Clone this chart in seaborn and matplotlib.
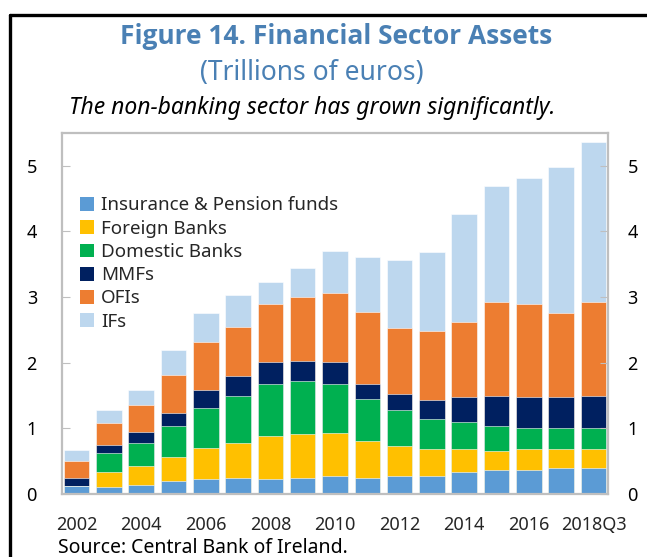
import numpy as np
import pandas as pd
import matplotlib
matplotlib.use('Agg')
import matplotlib.pyplot as plt
from matplotlib.patches import Patch
from matplotlib.lines import Line2D
import seaborn as sns

# Datos (billones de euros)
years = ['2002', '2003', '2004', '2005', '2006', '2007', '2008', '2009', '2010',
         '2011', '2012', '2013', '2014', '2015', '2016', '2017', '2018Q3']
insurance = [0.12, 0.11, 0.14, 0.20, 0.23, 0.25, 0.23, 0.25, 0.28, 0.25, 0.28, 0.28, 0.34, 0.37, 0.37, 0.40, 0.40]
foreign = [0.00, 0.23, 0.28, 0.36, 0.47, 0.53, 0.65, 0.67, 0.65, 0.56, 0.45, 0.40, 0.34, 0.28, 0.31, 0.28, 0.28]
domestic = [0.00, 0.28, 0.36, 0.47, 0.61, 0.72, 0.79, 0.80, 0.74, 0.64, 0.55, 0.47, 0.41, 0.39, 0.33, 0.33, 0.33]
mmfs = [0.13, 0.13, 0.16, 0.21, 0.28, 0.30, 0.34, 0.31, 0.34, 0.22, 0.25, 0.28, 0.39, 0.46, 0.47, 0.47, 0.49]
ofis = [0.25, 0.33, 0.42, 0.58, 0.72, 0.75, 0.89, 0.97, 1.05, 1.11, 1.00, 1.05, 1.14, 1.42, 1.42, 1.28, 1.42]
ifs = [0.17, 0.20, 0.22, 0.37, 0.45, 0.48, 0.33, 0.45, 0.64, 0.83, 1.03, 1.20, 1.64, 1.78, 1.92, 2.22, 2.44]

series_names = ['Insurance & Pension funds', 'Foreign Banks', 'Domestic Banks', 'MMFs', 'OFIs', 'IFs']
series_colors = ['#5B9BD5', '#FFC000', '#00B050', '#002060', '#ED7D31', '#BDD7EE']
tick_labels = ['2002', '2004', '2006', '2008', '2010', '2012', '2014', '2016', '2018Q3']

sns.set_style('white')
plt.rcParams['font.family'] = ['Noto Sans', 'DejaVu Sans']

df = pd.DataFrame({'year': years, 'Insurance & Pension funds': insurance,
                   'Foreign Banks': foreign, 'Domestic Banks': domestic,
                   'MMFs': mmfs, 'OFIs': ofis, 'IFs': ifs})

fig = plt.figure(figsize=(6.47, 5.57), dpi=100)
ax = fig.add_axes([62 / 647, 1 - 494 / 557, 546 / 647, 361 / 557])

# Barras apiladas: se dibujan los acumulados desde arriba hacia abajo
cum = df[series_names].cumsum(axis=1)
for name, color in reversed(list(zip(series_names, series_colors))):
    sns.barplot(x=df['year'], y=cum[name], color=color, width=0.79,
                order=years, ax=ax, edgecolor='white', linewidth=0.4, saturation=1)

ax.set_xlim(-0.45, len(years) - 0.55)
ax.set_ylim(0, 5.5)
ax.set_xlabel('')
ax.set_ylabel('')

grey = '#BFBFBF'
for s in ax.spines.values():
    s.set_color(grey)
    s.set_linewidth(1.6)

ax.set_yticks(range(6))
ax.tick_params(axis='y', which='both', direction='in', length=6, color=grey,
               labelsize=13, labelcolor='black', left=True, right=False, pad=18)

# Eje derecho con las mismas marcas
ax2 = ax.twinx()
ax2.set_ylim(ax.get_ylim())
ax2.set_yticks(range(6))
ax2.tick_params(axis='y', direction='in', length=6, color=grey, labelsize=13,
                labelcolor='black', pad=14)
for s in ax2.spines.values():
    s.set_visible(False)

ax.set_xticks(range(0, len(years), 2))
ax.set_xticklabels(tick_labels)
ax.set_xticks(np.arange(0.5, len(years) - 1, 1), minor=True)
ax.tick_params(axis='x', which='major', length=0, labelsize=13, pad=16)
ax.tick_params(axis='x', which='minor', direction='in', length=4, color=grey, width=1.2)

handles = [Patch(facecolor=c, edgecolor='none') for c in series_colors]
ax.legend(handles, series_names, loc='upper left', bbox_to_anchor=(0.02, 0.845),
          frameon=False, fontsize=13.5, handlelength=0.75, handleheight=0.75,
          handletextpad=0.35, labelspacing=0.28, borderaxespad=0)

# Títulos
fig.text(0.519, 0.935, 'Figure 14. Financial Sector Assets', ha='center', va='center',
         fontsize=19, fontweight='bold', color='#4A80B4',
         family=['Open Sans', 'Lato', 'DejaVu Sans'])
fig.text(0.482, 0.869, '(Trillions of euros)', ha='center', va='center',
         fontsize=19, color='#4A80B4')
fig.text(0.482, 0.806, 'The non-banking sector has grown significantly.', ha='center',
         va='center', fontsize=16.5, style='italic', color='black')
fig.text(58 / 647, 0.016, 'Source: Central Bank of Ireland.', ha='left', va='center',
         fontsize=14, color='black')

# Marco exterior
fig.add_artist(Line2D([10 / 647, 10 / 647], [0, 1 - 14.5 / 557], color='black',
                      lw=2.4, transform=fig.transFigure))
fig.add_artist(Line2D([10 / 647, 1], [1 - 14.5 / 557, 1 - 14.5 / 557], color='black',
                      lw=2.4, transform=fig.transFigure))

fig.savefig('out.png', dpi=100)
